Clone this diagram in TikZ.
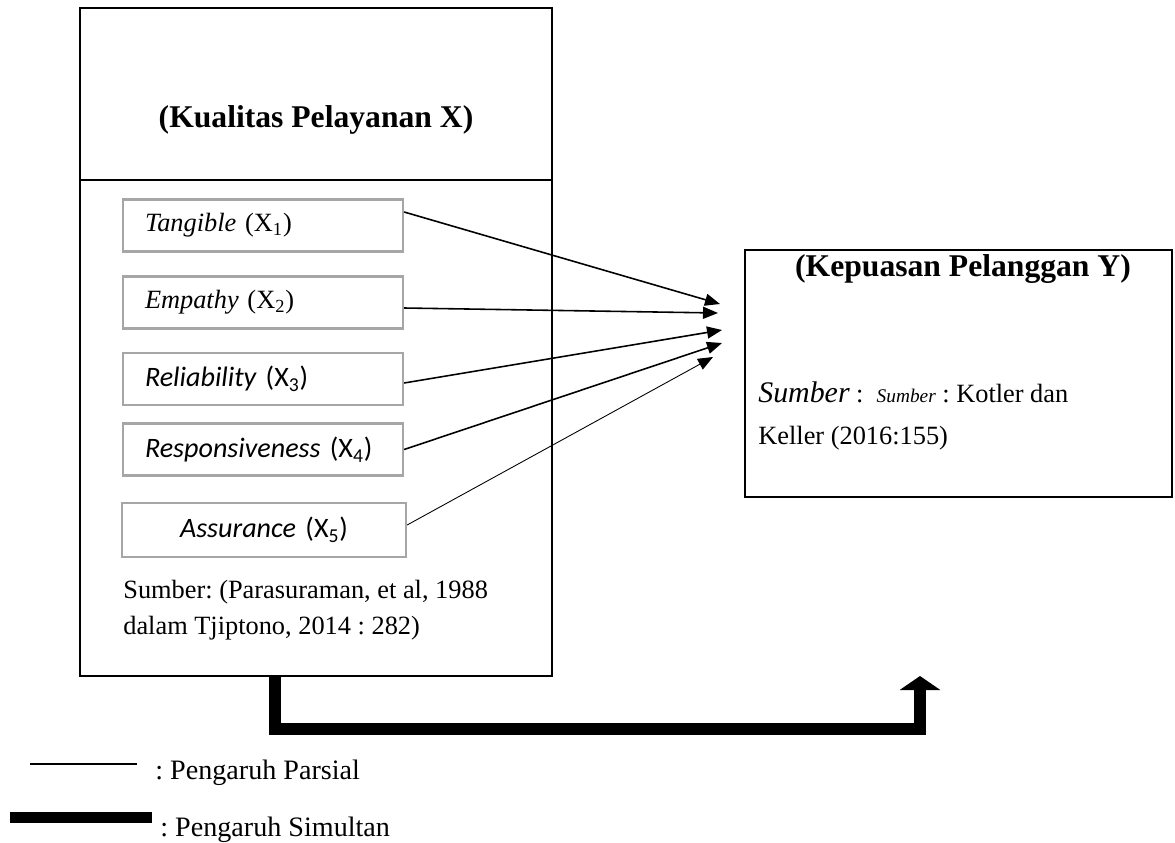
\documentclass[tikz,border=0pt]{standalone}
\usepackage{fontspec}
\setmainfont{Liberation Serif}[
  BoldFont={Liberation Serif Bold},
  ItalicFont={Liberation Serif Italic}]
\newfontfamily\calibri{Carlito}
\usetikzlibrary{arrows.meta}
\frenchspacing

\tikzset{
  outerbox/.style={draw, line width=1.1pt, inner sep=0pt},
  varbox/.style={draw=black!35, line width=1.3pt, minimum height=1.04cm,
    inner xsep=0.44cm, inner ysep=0pt, text width=4.72cm, align=left},
  parsial/.style={-{Triangle[length=0.3cm,width=0.24cm]}, line width=0.9pt},
  simultan/.style={-{Triangle[length=0.28cm,width=0.8cm]}, line width=0.24cm},
}

\begin{document}
\begin{tikzpicture}
    \useasboundingbox (0,0) rectangle (23.5,-16.86);

    % variabel X
    \node[outerbox, minimum width=9.44cm, minimum height=13.36cm] (kualitas) at (6.32,-6.84) {};
    \draw[line width=1.1pt] (kualitas.west |- 0,-3.6) -- (kualitas.east |- 0,-3.6);
    \node[font=\fontsize{18}{22}\selectfont\bfseries] (judulx) at (6.32,-2.4) {(Kualitas Pelayanan X)};

    \node[varbox, font=\fontsize{15}{18}\selectfont] (tangible) at (5.26,-4.51) {{\itshape Tangible} (X\textsubscript{1})};
    \node[varbox, font=\fontsize{15}{18}\selectfont] (empathy) at (5.26,-6.05) {{\itshape Empathy} (X\textsubscript{2})};
    \node[varbox, font=\fontsize{16}{19}\selectfont\calibri] (reliability) at (5.26,-7.58) {{\itshape Reliability} (X\textsubscript{3})};
    \node[varbox, font=\fontsize{16}{19}\selectfont\calibri] (responsiveness) at (5.26,-8.99) {{\itshape Responsiveness} (X\textsubscript{4})};
    \node[varbox, font=\fontsize{16}{19}\selectfont\calibri, minimum height=1.08cm, text width=4.8cm, align=center] (assurance) at (5.28,-10.6) {{\itshape Assurance} (X\textsubscript{5})};

    \node[anchor=north west, inner sep=0pt, align=left, font=\fontsize{15}{20.5}\selectfont] (sumberx) at (2.46,-11.6)
        {Sumber: (Parasuraman, et al, 1988\\dalam Tjiptono, 2014 : 282)};

    % variabel Y
    \node[outerbox, minimum width=8.54cm, minimum height=4.94cm] (kepuasan) at (19.17,-7.47) {};
    \node[font=\fontsize{18}{22}\selectfont\bfseries] (juduly) at (19.26,-5.38) {(Kepuasan Pelanggan Y)};
    \node[anchor=west, inner sep=0pt, font=\fontsize{15}{18}\selectfont] (sumbery) at (15.16,-7.84)
        {{\fontsize{17}{20}\selectfont\itshape Sumber} :\ \ {\fontsize{11}{13}\selectfont\itshape Sumber} : Kotler dan};
    \node[anchor=west, inner sep=0pt, font=\fontsize{15}{18}\selectfont] (tahuny) at (15.16,-8.76) {Keller (2016:155)};

    % pengaruh parsial
    \coordinate (t1) at (14.40,-6.08);
    \coordinate (t2) at (14.36,-6.26);
    \coordinate (t3) at (14.44,-6.60);
    \coordinate (t4) at (14.44,-6.86);
    \coordinate (t5) at (14.26,-7.14);
    \draw[parsial] ([yshift=0.27cm]tangible.east) -- (t1);
    \draw[parsial] ([yshift=-0.11cm]empathy.east) -- (t2);
    \draw[parsial] ([yshift=-0.08cm]reliability.east) -- (t3);
    \draw[parsial] (responsiveness.east) -- (t4);
    \draw[parsial, line width=0.5pt] ([yshift=0.1cm]assurance.east) -- (t5);

    % pengaruh simultan
    \coordinate (puncak) at (18.4,-13.52);
    \draw[simultan] ([xshift=-0.82cm]kualitas.south) -- ++(0,-1.04) -| (puncak);

    % keterangan
    \draw[line width=0.8pt] (0.6,-15.28) -- (2.74,-15.28);
    \node[anchor=west, inner sep=0pt, font=\fontsize{16}{19}\selectfont] (ketparsial) at (3.1,-15.46) {: Pengaruh Parsial};
    \draw[line width=0.22cm] (0.2,-16.34) -- (3.04,-16.34);
    \node[anchor=west, inner sep=0pt, font=\fontsize{16}{19}\selectfont] (ketsimultan) at (3.2,-16.6) {: Pengaruh Simultan};
\end{tikzpicture}
\end{document}
